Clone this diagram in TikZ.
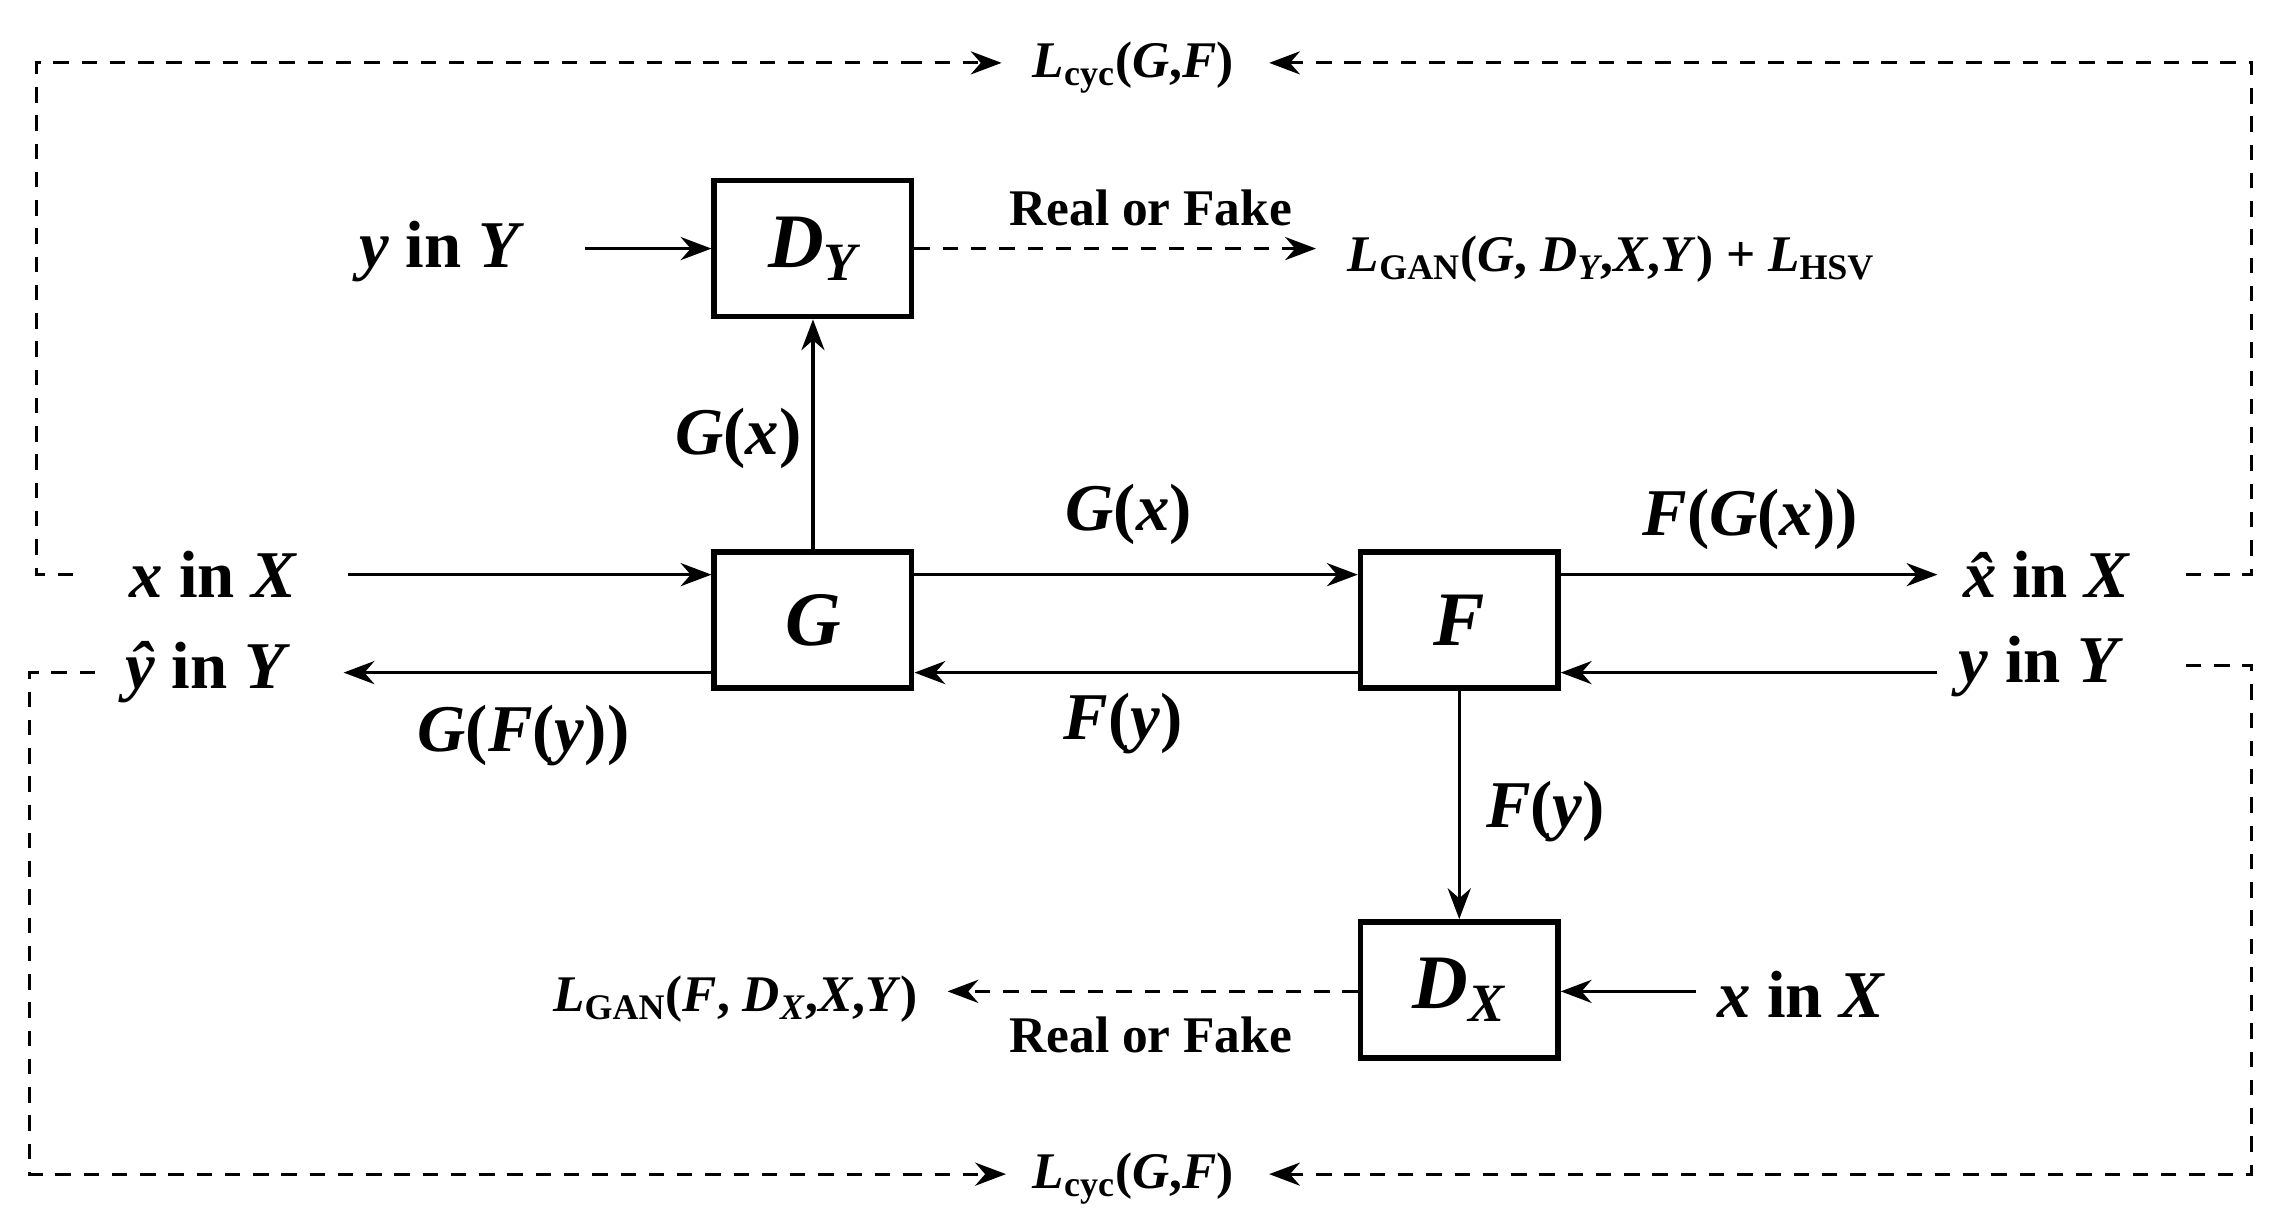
\documentclass[tikz,border=0pt]{standalone}
\usepackage{fontspec}
\setmainfont{Liberation Serif}
\usetikzlibrary{arrows.meta}
\begin{document}
\begin{tikzpicture}[x=0.02cm,y=-0.02cm,
  box/.style={draw,line width=2.2pt,minimum width=2.7cm,minimum height=1.86cm,inner sep=0pt,font=\fontsize{30}{32}\selectfont\bfseries\itshape},
  big/.style={font=\fontsize{26}{28}\selectfont\bfseries,inner sep=0pt},
  sm/.style={font=\fontsize{20}{22}\selectfont\bfseries,inner sep=0pt},
  arr/.style={line width=1.2pt,-{Stealth[length=12pt,width=9pt]}},
  darr/.style={line width=1.2pt,dashed,dash pattern=on 6pt off 5pt,-{Stealth[length=12pt,width=9pt]}},
  dl/.style={line width=1.2pt,dash pattern=on 6pt off 5pt}]
\useasboundingbox (0,0) rectangle (1560,839);
\node[box] (DY) at (556,170) {D\textsubscript{Y}};
\node[box] (G) at (556,424) {G};
\node[box] (F) at (998,424) {F};
\node[box] (DX) at (998,677) {D\textsubscript{X}};
% labels
\node[big] (yY1) at (302,172) {\textit{y} in \textit{Y}};
\node[big] (xX1) at (146,393) {\textit{x} in \textit{X}};
\node[big] (yh) at (142,460) {\textit{\^{y}} in \textit{Y}};
\node[big] (xh) at (1400,393) {\textit{\^{x}}in \textit{X}};
\node[big] (yY2) at (1396,456) {\textit{y} in \textit{Y}};
\node[big] (xX2) at (1232,680) {\textit{x} in \textit{X}};
\node[sm] (LG1) at (1102,177) {\textit{L}\textsubscript{GAN}(\textit{G}, \textit{D\textsubscript{Y}},\textit{X},\textit{Y}) + \textit{L}\textsubscript{HSV}};
\node[sm] (LG2) at (503,683) {\textit{L}\textsubscript{GAN}(\textit{F}, \textit{D\textsubscript{X}},\textit{X},\textit{Y})};
\node[sm] (LC1) at (775,46) {\textit{L}\textsubscript{cyc}(\textit{G},\textit{F})};
\node[sm] (LC2) at (775,806) {\textit{L}\textsubscript{cyc}(\textit{G},\textit{F})};
\node[sm] at (787,142) {Real or Fake};
\node[sm] at (787,708) {Real or Fake};
\node[big] at (505,300) {\textit{G}(\textit{x})};
\node[big] at (772,352) {\textit{G}(\textit{x})};
\node[big] at (1197,355) {\textit{F}(\textit{G}(\textit{x}))};
\node[big] at (768,495) {\textit{F}(\textit{y})};
\node[big] at (358,503) {\textit{G}(\textit{F}(\textit{y}))};
\node[big] at (1057,555) {\textit{F}(\textit{y})};
% arrows
\draw[arr] (400,170) -- (DY.west);
\draw[arr] (G.north) -- (DY.south);
\draw[arr] (238,393) -- (G.west|-0,393);
\draw[arr] (G.east|-0,393) -- (F.west|-0,393);
\draw[arr] (F.east|-0,393) -- (1325,393);
\draw[arr] (1325,460) -- (F.east|-0,460);
\draw[arr] (F.west|-0,460) -- (G.east|-0,460);
\draw[arr] (G.west|-0,460) -- (235,460);
\draw[arr] (F.south) -- (DX.north);
\draw[arr] (1160,678) -- (DX.east|-0,678);
\draw[darr] (DY.east) -- (900,170);
\draw[darr] (DX.west|-0,678) -- (648,678);
\coordinate (a) at (50,393); \coordinate (b) at (1495,393);
\coordinate (c) at (65,460); \coordinate (d) at (1495,455);
\draw[dl] (a) -- (25,393) -- (25,43) -- (620,43);
\draw[darr] (620,43) -- (685,43);
\draw[dl] (b) -- (1540,393) -- (1540,43) -- (930,43);
\draw[darr] (930,43) -- (868,43);
\draw[dl] (c) -- (20,460) -- (20,803) -- (620,803);
\draw[darr] (620,803) -- (688,803);
\draw[dl] (d) -- (1540,455) -- (1540,803) -- (930,803);
\draw[darr] (930,803) -- (868,803);
\end{tikzpicture}
\end{document}
